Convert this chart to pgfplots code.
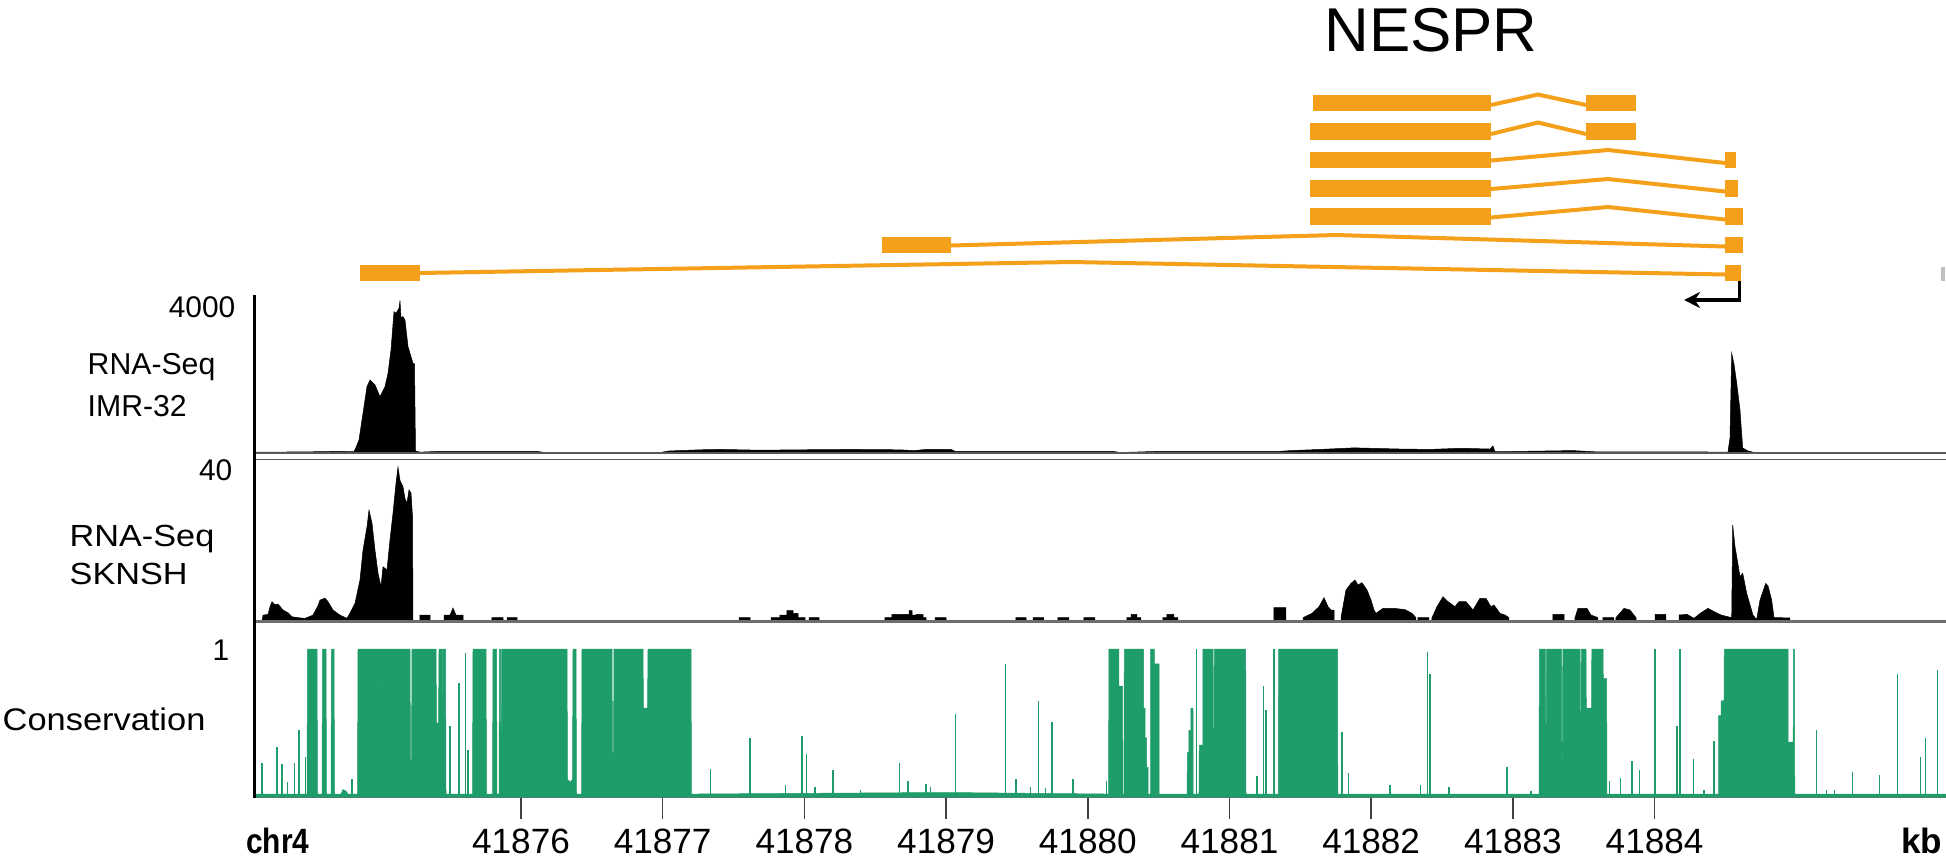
\documentclass[border=0pt]{standalone}
\usepackage{fontspec}
\setmainfont{Liberation Sans}
\usepackage{graphicx}
\usepackage{pgfplots}
\pgfplotsset{compat=1.18}
\usetikzlibrary{arrows.meta}

\definecolor{exon}{RGB}{244,160,26}
\definecolor{cons}{RGB}{30,157,106}
\definecolor{rulegray}{RGB}{110,110,110}
\newcommand\sz[1]{\fontsize{#1pt}{#1pt}\selectfont}

% genomic positions are given in kb relative to chr4:41,870 kb
\pgfplotsset{
  track/.style={scale only axis, width=169.2mm, xmin=4.1157, xmax=16.0565,
    clip=false, anchor=south west},
  exonbar/.style={exon, line width=1.65mm},
  intron/.style={exon, line width=0.4mm, line join=miter},
}

\begin{document}
\begin{tikzpicture}[x=0.1mm,y=0.1mm]
\path[use as bounding box] (0,0) rectangle (1946,856);

% ---------------- transcript models ----------------
\begin{axis}[track, anchor=north west, at={(25.4mm,79.6mm)}, height=24mm,
  ymin=60, ymax=300, y dir=reverse, axis lines=none]
% isoform 1
\addplot[exonbar] coordinates {(11.589,103)(12.846,103)};
\addplot[intron] coordinates {(12.846,105)(13.177,94.5)(13.516,105)};
\addplot[exonbar] coordinates {(13.516,103)(13.869,103)};
% isoform 2
\addplot[exonbar] coordinates {(11.568,131.5)(12.846,131.5)};
\addplot[intron] coordinates {(12.846,134)(13.177,122.5)(13.516,134)};
\addplot[exonbar] coordinates {(13.516,131.5)(13.869,131.5)};
% isoform 3
\addplot[exonbar] coordinates {(11.568,160)(12.846,160)};
\addplot[intron] coordinates {(12.846,160.5)(13.671,150)(14.497,163)};
\addplot[exonbar] coordinates {(14.497,160)(14.575,160)};
% isoform 4
\addplot[exonbar] coordinates {(11.568,188.3)(12.846,188.3)};
\addplot[intron] coordinates {(12.846,189)(13.671,179)(14.497,191.5)};
\addplot[exonbar] coordinates {(14.497,188.3)(14.589,188.3)};
% isoform 5
\addplot[exonbar] coordinates {(11.568,216.6)(12.846,216.6)};
\addplot[intron] coordinates {(12.846,217.5)(13.671,207)(14.497,219.5)};
\addplot[exonbar] coordinates {(14.497,216.6)(14.624,216.6)};
% isoform 6
\addplot[exonbar] coordinates {(8.548,244.8)(9.035,244.8)};
\addplot[intron] coordinates {(9.035,245.5)(11.752,235)(14.497,246.5)};
\addplot[exonbar] coordinates {(14.497,244.8)(14.624,244.8)};
% isoform 7
\addplot[exonbar] coordinates {(4.864,273)(5.287,273)};
\addplot[intron] coordinates {(5.287,273)(9.889,262)(14.497,274.5)};
\addplot[exonbar] coordinates {(14.497,273)(14.610,273)};
% neighbouring feature at the window edge
\addplot[black!25, line width=0.35mm] coordinates {(16.037,267)(16.037,281)};
% transcription start and direction
\addplot[black, line width=0.36mm, line join=miter,
  -{Stealth[length=1.6mm, width=1.6mm]}]
  coordinates {(14.598,281)(14.598,300)(14.208,300)};
\end{axis}

% ---------------- RNA-Seq IMR-32 ----------------
\begin{axis}[track, at={(25.4mm,40.27mm)}, height=15.53mm, ymin=0, ymax=4000, axis lines=none]
\addplot[fill=black, draw=black, line width=0.05mm] coordinates {
(4.1157,0)(4.1228,30)(4.4404,35)(4.7227,50)(4.8215,40)(4.8356,150)(4.8567,343)
(4.8920,1200)(4.9132,1716)(4.9344,1888)(4.9697,1760)(5.0049,1458)(5.0402,1716)
(5.0614,2060)(5.0826,2661)(5.1037,3648)(5.1179,3606)(5.1390,3735)(5.1461,3931)
(5.1531,3500)(5.1673,3519)(5.1814,3434)(5.2025,2747)(5.2237,2489)(5.2378,2318)
(5.2484,2300)(5.2555,60)(5.2872,30)(5.4284,50)(6.1129,50)(6.1694,20)(6.9810,20)
(7.0445,60)(7.2632,90)(7.4044,100)(7.6867,80)(7.9690,90)(8.3218,100)(8.6747,90)
(8.7735,70)(8.8582,100)(9.0346,100)(9.0628,50)(10.1779,50)(10.2273,20)(10.5025,50)
(11.3494,50)(11.4341,70)(11.6387,100)(11.8787,140)(12.2033,110)(12.4150,100)
(12.6338,130)(12.8384,110)(12.8596,190)(12.8737,40)(13.4242,70)(13.5724,40)
(14.3204,35)(14.5180,30)(14.5322,400)(14.5442,2576)(14.5604,2300)(14.5794,1811)
(14.6027,1115)(14.6218,136)(14.6592,60)(14.6945,30)(14.7439,0)(16.0565,0)
} \closedcycle;
\end{axis}

% ---------------- RNA-Seq SKNSH ----------------
\begin{axis}[track, at={(25.4mm,23.45mm)}, height=15.85mm, ymin=0, ymax=40, axis lines=none]
\addplot[fill=black, draw=black, line width=0.05mm] coordinates {
(4.1157,0)(4.1722,0)(4.1793,1.6)(4.2146,1.8)(4.2287,3.7)(4.2428,5.0)(4.2640,4.2)
(4.2851,4.4)(4.3204,2.9)(4.3557,2.2)(4.3839,1.2)(4.4404,0.9)(4.4757,0.8)(4.5321,1.6)
(4.5674,4.0)(4.5815,5.4)(4.6168,5.9)(4.6380,5.0)(4.6733,2.9)(4.7227,1.6)(4.7721,0.8)
(4.7932,2.1)(4.8285,4.6)(4.8638,10.5)(4.8850,18)(4.9132,23.9)(4.9273,28.1)(4.9485,24.8)
(4.9697,18)(4.9908,12.2)(5.0120,8.8)(5.0261,13.8)(5.0543,13)(5.0755,20.6)(5.0967,27.3)
(5.1179,34.9)(5.1320,39)(5.1461,35.6)(5.1673,34)(5.1814,31)(5.1955,29.9)(5.2096,33.2)
(5.2237,32.4)(5.2343,26.5)(5.2378,0)
(5.2872,0)(5.2872,1.6)(5.3578,1.6)(5.3578,0)
(5.4566,0)(5.4566,1.6)(5.4989,1.6)(5.5201,3.4)(5.5413,1.6)(5.5907,1.6)(5.5907,0)
(5.7953,0)(5.7953,1)(5.8730,1)(5.8730,0)
(5.9012,0)(5.9012,1)(5.9718,1)(5.9718,0)
(7.5385,0)(7.5385,0.97)(7.6161,0.97)(7.6161,0)
(7.7643,0)(7.7643,0.97)(7.8278,0.97)(7.8278,1.64)(7.8772,1.64)(7.8772,2.73)(7.9196,2.73)
(7.9196,2.06)(7.9549,2.06)(7.9549,0.97)(8.0043,0.97)(8.0043,0)
(8.0325,0)(8.0325,0.97)(8.1031,0.97)(8.1031,0)
(8.5688,0)(8.5688,0.97)(8.6182,0.97)(8.6182,1.81)(8.7382,1.81)(8.7382,2.73)(8.7594,2.73)
(8.7594,1.64)(8.7876,1.64)(8.7876,1.81)(8.8370,1.81)(8.8370,0.97)(8.8582,0.97)(8.8582,0)
(8.9217,0)(8.9217,0.97)(8.9994,0.97)(8.9994,0)
(9.4933,0)(9.4933,0.97)(9.5639,0.97)(9.5639,0)
(9.6133,0)(9.6133,0.97)(9.6909,0.97)(9.6909,0)
(9.7897,0)(9.7897,0.97)(9.8673,0.97)(9.8673,0)
(9.9732,0)(9.9732,0.97)(10.0508,0.97)(10.0508,0)
(10.2766,0)(10.2766,0.97)(10.3049,0.97)(10.3049,1.81)(10.3472,1.81)(10.3472,0.97)(10.3754,0.97)(10.3754,0)
(10.5307,0)(10.5307,0.97)(10.5589,0.97)(10.5589,1.81)(10.6083,1.81)(10.6083,0.97)(10.6365,0.97)(10.6365,0)
(11.3140,0)(11.3140,3.49)(11.3987,3.49)(11.3987,0)
(11.5188,0)(11.5188,0.97)(11.5823,2.06)(11.6317,3.74)(11.6670,6.02)(11.6952,3.74)
(11.7164,2.9)(11.7376,2.9)(11.7376,0)
(11.7870,0)(11.7870,0.97)(11.8222,7.95)(11.8575,9.63)(11.8857,10.47)(11.9069,9.21)
(11.9351,9.8)(11.9704,7.95)(11.9987,5.43)(12.0198,2.9)(12.0339,2.06)(12.0833,3.32)
(12.1609,3.32)(12.2386,3.0)(12.2880,2.06)(12.3162,0.97)(12.3162,0)
(12.3303,0)(12.3303,0.97)(12.4079,0.97)(12.4079,0)
(12.4291,0)(12.4291,0.97)(12.4644,3.74)(12.5067,6.27)(12.5420,5.01)(12.5914,3.74)
(12.6196,5.01)(12.6690,5.01)(12.7184,2.9)(12.7678,5.85)(12.8102,5.85)(12.8455,3.74)
(12.8666,4.16)(12.9090,2.06)(12.9443,1.64)(12.9725,0.97)(12.9725,0)
(13.2830,0)(13.2830,1.81)(13.3607,1.81)(13.3607,0)
(13.4383,0)(13.4383,0.97)(13.4595,3.32)(13.5230,3.32)(13.5512,1.64)(13.6006,0.97)(13.6006,0)
(13.6359,0)(13.6359,0.97)(13.7135,0.97)(13.7135,0)
(13.7276,0)(13.7276,0.97)(13.7841,3.32)(13.8264,2.9)(13.8688,0.97)(13.8688,0)
(14.0029,0)(14.0029,1.81)(14.0805,1.81)(14.0805,0)
(14.1723,0)(14.1723,1.64)(14.2287,1.81)(14.2781,0.8)(14.3275,2.2)(14.3769,3.32)
(14.4193,2.5)(14.4687,1.64)(14.5180,1.2)(14.5442,0.97)(14.5512,24.4)(14.5674,18.9)
(14.5837,15.5)(14.6027,11.3)(14.6218,12.2)(14.6500,7.1)(14.6945,1.6)(14.7206,0.5)
(14.7439,5.4)(14.7841,9.6)(14.8003,9.0)(14.8264,5.4)(14.8427,1.0)(14.9556,0.9)
(14.9556,0)(16.0565,0)
} \closedcycle;
\end{axis}

% ---------------- Conservation ----------------
\begin{axis}[track, at={(25.4mm,5.9mm)}, height=14.8mm, ymin=0, ymax=1,
  axis x line*=bottom, axis y line=none, ytick=\empty,
  xtick={6,7,...,14}, xticklabels={}, tick align=outside, major tick length=2.2mm,
  every tick/.append style={line width=0.15mm, black!75},
  x axis line style={line width=0.25mm, draw=rulegray}]
\addplot[fill=cons, draw=cons, line width=0.05mm] coordinates {
(4.1157,0)(4.1228,0.02)(4.4898,0.02)(4.4933,1)(4.5603,1)(4.5639,0.02)(4.5956,0.02)
(4.5992,1)(4.6239,1)(4.6274,0.02)(4.6592,0.02)(4.6627,1)(4.6803,1)(4.6839,0.02)
(4.7297,0.02)(4.7438,0.05)(4.7650,0.04)(4.7791,0.02)(4.8461,0.02)(4.8497,1)
(5.0050,1)(5.0062,0.6)(5.0080,0.6)(5.0092,1)(5.2167,1)
(5.2202,0.25)(5.2272,0.25)(5.2308,1)(5.4002,1)(5.4037,0.5)(5.4178,0.5)(5.4214,1)
(5.4460,1)(5.4470,0.7)(5.4500,0.7)(5.4510,1)
(5.4672,1)(5.4708,0.02)(5.6577,0.02)(5.6613,1)(5.7530,1)(5.7566,0.02)(5.7989,0.02)
(5.8024,1)(5.8271,1)(5.8306,0.02)(5.8447,0.02)(5.8483,1)(5.8560,1)(5.8572,0.45)
(5.8620,0.45)(5.8632,1)(6.3247,1)(6.3282,0.12)
(6.3458,0.1)(6.3635,0.12)(6.3670,1)(6.3882,1)(6.3917,0.02)(6.4270,0.02)(6.4305,1)
(6.6422,1)(6.6457,0.3)(6.6528,0.3)(6.6563,1)(6.8610,1)(6.8645,0.6)(6.8927,0.6)
(6.8963,1)(7.1997,1)(7.2032,0.02)(8.9005,0.03)(9.0487,0.03)(10.1461,0.02)(10.1496,1)
(10.2202,1)(10.2202,0.75)(10.2449,0.75)(10.2484,0.02)(10.2555,0.02)(10.2576,1)
(10.3938,1)(10.3938,0.6)(10.4050,0.6)(10.4050,0.4)(10.4150,0.4)(10.4150,0.2)
(10.4249,0.2)(10.4263,0.02)(10.4425,0.02)(10.4439,1)
(10.4693,1)(10.4693,0.9)(10.5025,0.9)(10.5039,0.02)(10.7001,0.02)(10.7036,0.3)
(10.7140,0.3)(10.7140,0.45)(10.7280,0.45)(10.7280,0.6)
(10.7424,0.6)(10.7439,0.02)(10.7847,0.02)(10.7868,0.35)(10.8123,0.35)(10.8130,1)
(10.8836,1)(10.8857,0.36)(10.8906,0.36)(10.8928,1)(11.1144,1)(11.1165,0.02)
(11.3444,0.02)(11.3465,1)(11.7623,1)(11.7644,0.02)(13.1843,0.02)(13.1871,1)
(13.2287,1)(13.2309,0.5)(13.2358,0.5)(13.2379,1)(13.3430,1)(13.3451,0.27)
(13.3500,0.27)(13.3522,1)(13.4736,1)(13.4757,0.5)(13.4806,0.5)(13.4828,1)
(13.5159,1)(13.5181,0.6)(13.5548,0.6)(13.5569,1)(13.6359,1)(13.6380,0.8)
(13.6613,0.8)(13.6641,0.02)(14.4510,0.02)(14.4524,0.55)(14.4700,0.55)(14.4700,0.65)
(14.4898,0.65)(14.4919,1)(14.9415,1)(14.9429,0.37)(14.9782,0.37)(14.9803,1)(14.9873,1)
(14.9894,0.02)(16.0565,0.02)(16.0565,0)
} \closedcycle;
\addplot[ycomb, draw=cons, line width=0.15mm] coordinates {
(4.1708,0.23)(4.2767,0.34)(4.3141,0.22)(4.3522,0.10)(4.4023,0.23)(4.4327,0.45)
(4.4785,0.27)(4.8059,0.12)(5.4989,0.48)(5.5617,0.77)(5.6076,0.97)(5.6253,0.32)
(7.3387,0.19)(7.6161,0.40)(7.8681,0.08)(7.9817,0.41)(8.0142,0.29)(8.0749,0.07)
(8.2033,0.18)(8.3974,0.05)(8.6697,0.23)(8.7325,0.11)(8.8581,0.09)(8.8913,0.07)
(9.0656,0.56)(9.4185,0.90)(9.4940,0.12)(9.5949,0.07)(9.6528,0.65)(9.7029,0.06)
(9.7481,0.51)(9.8970,0.12)(10.1313,0.11)(10.7665,1.0)(11.1948,0.14)(11.2407,0.75)
(11.2576,0.59)(11.3134,1.0)(11.7953,0.44)(11.8384,0.16)(12.1326,0.08)(12.3486,0.08)
(12.3966,0.98)(12.4149,0.83)(12.5490,0.07)(12.9577,0.20)(13.1292,0.04)(13.6825,0.11)
(13.7594,0.13)(13.8406,0.24)(13.8935,0.18)(14.0043,1.0)(14.1575,0.48)(14.1786,1.0)
(14.2732,0.26)(14.3473,0.05)(14.4186,0.38)(15.1440,0.45)(15.2124,0.05)(15.2703,0.05)
(15.3966,0.17)(15.5865,0.15)(15.7135,0.83)(15.8765,0.27)(15.9111,0.40)(15.9958,0.86)
};
% kb labels of the ticks
\node[anchor=base, inner sep=0pt, yshift=-5.6mm] at (axis cs:6,0) {\sz{10}41876};
\node[anchor=base, inner sep=0pt, yshift=-5.6mm] at (axis cs:7,0) {\sz{10}41877};
\node[anchor=base, inner sep=0pt, yshift=-5.6mm] at (axis cs:8,0) {\sz{10}41878};
\node[anchor=base, inner sep=0pt, yshift=-5.6mm] at (axis cs:9,0) {\sz{10}41879};
\node[anchor=base, inner sep=0pt, yshift=-5.6mm] at (axis cs:10,0) {\sz{10}41880};
\node[anchor=base, inner sep=0pt, yshift=-5.6mm] at (axis cs:11,0) {\sz{10}41881};
\node[anchor=base, inner sep=0pt, yshift=-5.6mm] at (axis cs:12,0) {\sz{10}41882};
\node[anchor=base, inner sep=0pt, yshift=-5.6mm] at (axis cs:13,0) {\sz{10}41883};
\node[anchor=base, inner sep=0pt, yshift=-5.6mm] at (axis cs:14,0) {\sz{10}41884};
\end{axis}

% track frame lines
\draw[rulegray!80!black, line width=0.18mm] (254,402.7) -- (1946,402.7);
\draw[rulegray!80!black, line width=0.18mm] (254,396.5) -- (1946,396.5);
\draw[rulegray, line width=0.25mm] (254,234.5) -- (1946,234.5);
\draw[black, line width=0.3mm] (254,561) -- (254,58);

% titles and track labels
\node[anchor=base, inner sep=0pt] at (1431,804) {\sz{17.6}NESPR};
\node[anchor=base east, inner sep=0pt] at (236,538) {\sz{8.5}4000};
\node[anchor=base east, inner sep=0pt] at (233,375) {\sz{8.5}40};
\node[anchor=base east, inner sep=0pt] at (230,196) {\sz{8.5}1};
\node[anchor=base west, inner sep=0pt] at (87,481) {\sz{8.6}RNA-Seq};
\node[anchor=base west, inner sep=0pt] at (87,439.3) {\sz{8.6}IMR-32};
\node[anchor=base west, inner sep=0pt] at (69,309) {\scalebox{1.12}[1]{\sz{8.7}RNA-Seq}};
\node[anchor=base west, inner sep=0pt] at (69,271) {\scalebox{1.12}[1]{\sz{8.7}SKNSH}};
\node[anchor=base west, inner sep=0pt] at (2,126) {\scalebox{1.1}[1]{\sz{8.9}Conservation}};
\node[anchor=base east, inner sep=0pt] at (310,3) {\scalebox{0.85}[1]{\sz{10}\bfseries chr4}};
\node[anchor=base east, inner sep=0pt] at (1943,3) {\sz{10}\bfseries kb};
\end{tikzpicture}
\end{document}
